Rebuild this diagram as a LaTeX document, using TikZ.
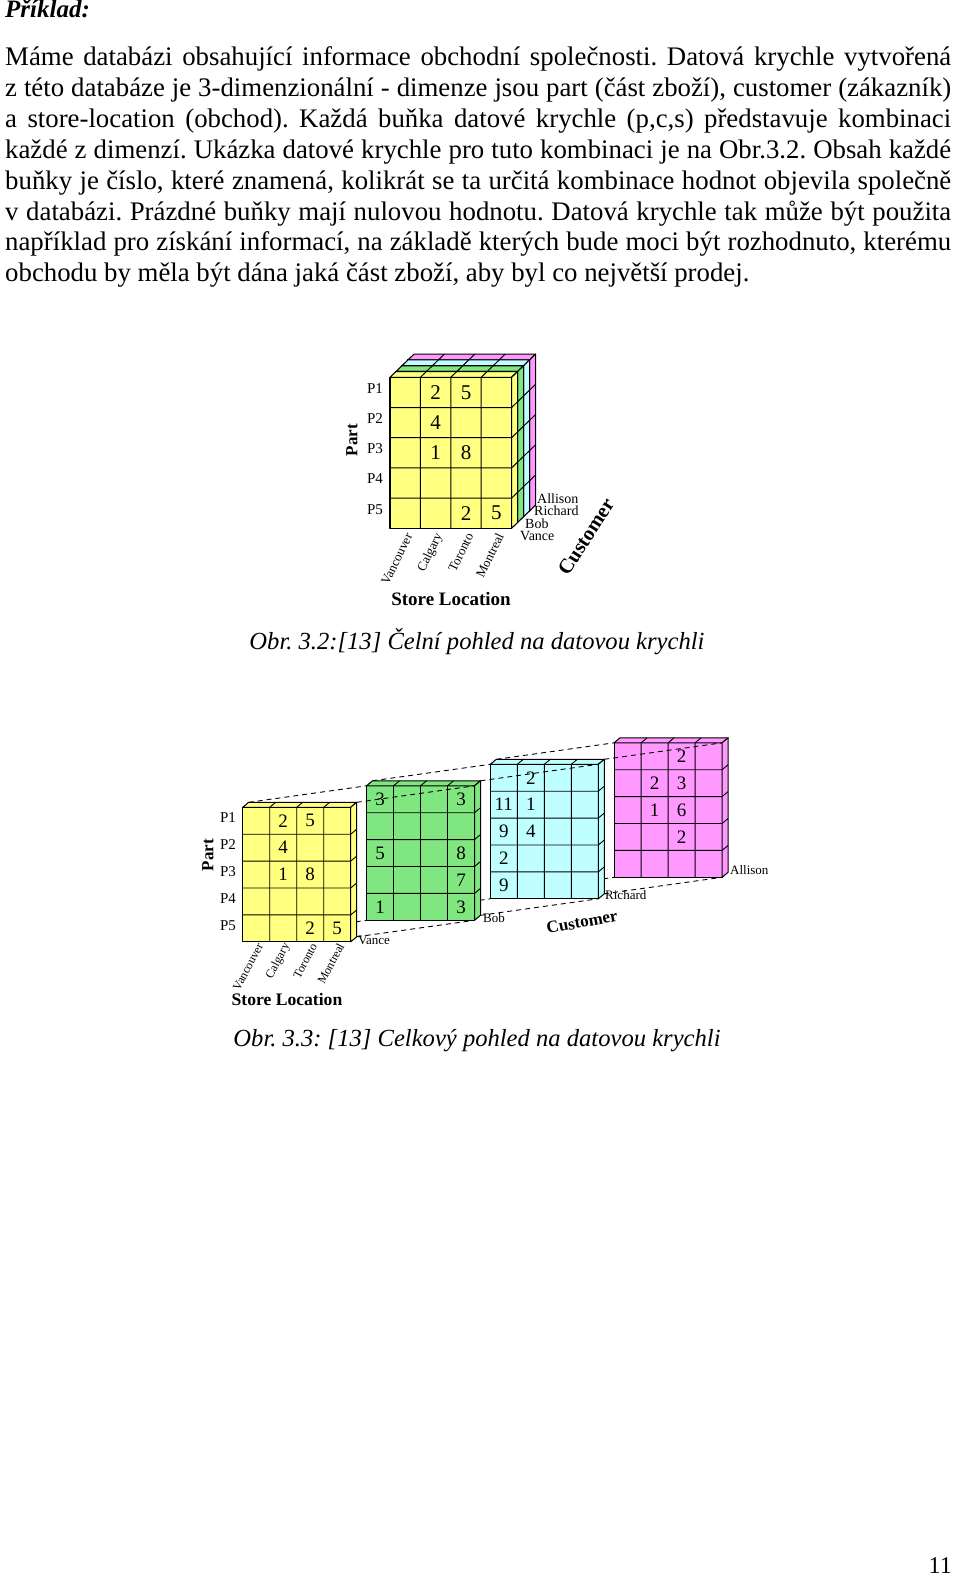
\documentclass[tikz,border=0pt]{standalone}
\usepackage{fontspec}
\setmainfont{Liberation Serif}
\usetikzlibrary{positioning}
\frenchspacing
\definecolor{cubeyellow}{RGB}{255,255,128}
\definecolor{cubegreen}{RGB}{128,230,128}
\definecolor{cubecyan}{RGB}{192,255,255}
\definecolor{cubepink}{RGB}{255,153,255}
\tikzset{
  slab/.style={draw=black, line width=1.1pt, line join=round},
  cellline/.style={draw=black, line width=1pt},
  persp/.style={draw=black, line width=0.9pt, dash pattern=on 5pt off 4pt},
  bodyline/.style={anchor=base west, inner sep=0pt, font=\fontsize{26.8}{31}\selectfont},
  caption/.style={anchor=base, inner sep=0pt, font=\itshape\fontsize{24.6}{31}\selectfont},
  cellnum/.style={inner sep=0pt, font=\fontsize{21}{21}\selectfont},
  rowlab/.style={inner sep=0pt, font=\fontsize{15}{15}\selectfont},
  collab/.style={inner sep=0pt, anchor=east, font=\fontsize{13}{13}\selectfont},
  custlab/.style={inner sep=0pt, anchor=west, font=\fontsize{14}{14}\selectfont},
  axislab/.style={inner sep=0pt, font=\bfseries\fontsize{19}{19}\selectfont},
}
\begin{document}
\begin{tikzpicture}[x=1pt, y=-1pt]
\fill[white] (0,0) rectangle (960,1576);
\useasboundingbox (0,0) rectangle (960,1576);
% text of the page
\node[bodyline, font=\bfseries\itshape\fontsize{25}{31}\selectfont] (title) at (5,18) {Příklad:};
\node[bodyline] (l1) at (5,66) {\makebox[946pt][s]{Máme databázi obsahující informace obchodní společnosti. Datová krychle vytvořená}};
\node[bodyline] (l2) at (5,96.8) {\makebox[946pt][s]{z této databáze je 3-dimenzionální - dimenze jsou part (část zboží), customer (zákazník)}};
\node[bodyline] (l3) at (5,127.6) {\makebox[946pt][s]{a store-location (obchod). Každá buňka datové krychle (p,c,s) představuje kombinaci}};
\node[bodyline] (l4) at (5,158.4) {\makebox[946pt][s]{každé z dimenzí. Ukázka datové krychle pro tuto kombinaci je na Obr.3.2. Obsah každé}};
\node[bodyline] (l5) at (5,189.2) {\makebox[946pt][s]{buňky je číslo, které znamená, kolikrát se ta určitá kombinace hodnot objevila společně}};
\node[bodyline] (l6) at (5,220) {\makebox[946pt][s]{v databázi. Prázdné buňky mají nulovou hodnotu. Datová krychle tak může být použita}};
\node[bodyline] (l7) at (5,250.8) {\makebox[946pt][s]{například pro získání informací, na základě kterých bude moci být rozhodnuto, kterému}};
\node[bodyline] (l8) at (5,281.6) {obchodu by měla být dána jaká část zboží, aby byl co největší prodej.};
% Obr. 3.2: front view of the cube
\pgfmathsetmacro\cubex{390}
\pgfmathsetmacro\cubey{377.3}
\pgfmathsetmacro\cellw{30.4}
\pgfmathsetmacro\cellh{30.2}
\pgfmathsetmacro\depx{6}
\pgfmathsetmacro\depy{-5.8}
\foreach \j/\fillcol in {3/cubepink,2/cubecyan,1/cubegreen,0/cubeyellow} {
  \pgfmathsetmacro\slx{\cubex+\j*\depx}
  \pgfmathsetmacro\sly{\cubey+\j*\depy}
  \pgfmathsetmacro\srx{\slx+4*\cellw}
  \pgfmathsetmacro\sry{\sly+5*\cellh}
  \filldraw[slab, fill=\fillcol] (\slx,\sly) rectangle (\srx,\sry);
  \filldraw[slab, fill=\fillcol] (\slx,\sly) -- ++(\depx,\depy) -- ++(4*\cellw,0) -- (\srx,\sly) -- cycle;
  \filldraw[slab, fill=\fillcol] (\srx,\sly) -- ++(\depx,\depy) -- ++(0,5*\cellh) -- (\srx,\sry) -- cycle;
  \foreach \c in {1,2,3} \draw[cellline] (\slx+\c*\cellw,\sly) -- ++(\depx,\depy) (\slx+\c*\cellw,\sly) -- (\slx+\c*\cellw,\sry);
  \foreach \r in {1,...,4} \draw[cellline] (\srx,\sly+\r*\cellh) -- ++(\depx,\depy) (\slx,\sly+\r*\cellh) -- (\srx,\sly+\r*\cellh);
}
\foreach \r/\c/\v in {1/2/2,1/3/5,2/2/4,3/2/1,3/3/8,5/3/2,5/4/5}
  \node[cellnum] (f-\r-\c) at (\cubex+\c*\cellw-0.5*\cellw, \cubey+\r*\cellh-0.5*\cellh) {\v};
\foreach \r in {1,...,5} \node[rowlab] (f-p\r) at (375, \cubey+\r*\cellh-0.5*\cellh-4) {P\r};
\node[axislab, font=\bfseries\fontsize{17}{17}\selectfont, rotate=90] (f-part) at (352,440) {Part};
\foreach \c/\town in {1/Vancouver,2/Calgary,3/Toronto,4/Montreal}
  \node[collab, rotate=64] (f-\town) at (\cubex+\c*\cellw-0.5*\cellw+4, 534) {\town};
\node[axislab, anchor=base] (f-store) at (451,605) {Store Location};
\node[custlab] (f-allison) at (537,499) {Allison};
\node[custlab] (f-richard) at (534,511) {Richard};
\node[custlab] (f-bob) at (525,524) {Bob};
\node[custlab] (f-vance) at (520,536) {Vance};
\node[axislab, font=\bfseries\fontsize{20.5}{20.5}\selectfont, rotate=57] (f-customer) at (586,537) {Customer};
\node[caption] (cap1) at (477,649) {Obr. 3.2:[13] Čelní pohled na datovou krychli};
% Obr. 3.3: the four customer walls pulled apart
\pgfmathsetmacro\wallx{242.7}
\pgfmathsetmacro\wally{807.3}
\pgfmathsetmacro\gapx{123.8}
\pgfmathsetmacro\gapy{-21.5}
\pgfmathsetmacro\cellw{27}
\pgfmathsetmacro\cellh{26.9}
\pgfmathsetmacro\depx{6}
\pgfmathsetmacro\depy{-5}
\foreach \k in {0,...,3} {
  \pgfmathsetmacro\slx{\wallx+\k*\gapx}
  \pgfmathsetmacro\sly{\wally+\k*\gapy}
  \coordinate (w\k-tl) at (\slx,\sly);
  \coordinate (w\k-tr) at (\slx+4*\cellw,\sly);
  \coordinate (w\k-bl) at (\slx,\sly+5*\cellh);
  \coordinate (w\k-br) at (\slx+4*\cellw,\sly+5*\cellh);
  \coordinate (w\k-btl) at (\slx+\depx,\sly+\depy);
  \coordinate (w\k-btr) at (\slx+4*\cellw+\depx,\sly+\depy);
  \coordinate (w\k-bbl) at (\slx+\depx,\sly+5*\cellh+\depy);
  \coordinate (w\k-bbr) at (\slx+4*\cellw+\depx,\sly+5*\cellh+\depy);
}
\foreach \k/\fillcol in {3/cubepink,2/cubecyan,1/cubegreen,0/cubeyellow} {
  \pgfmathsetmacro\slx{\wallx+\k*\gapx}
  \pgfmathsetmacro\sly{\wally+\k*\gapy}
  \filldraw[slab, line width=1pt, fill=\fillcol] (w\k-tl) rectangle (w\k-br);
  \filldraw[slab, line width=1pt, fill=\fillcol] (w\k-tl) -- (w\k-btl) -- (w\k-btr) -- (w\k-tr) -- cycle;
  \filldraw[slab, line width=1pt, fill=\fillcol] (w\k-tr) -- (w\k-btr) -- (w\k-bbr) -- (w\k-br) -- cycle;
  \foreach \c in {1,2,3} \draw[cellline, line width=0.9pt] (\slx+\c*\cellw,\sly) -- ++(\depx,\depy) (\slx+\c*\cellw,\sly) -- ++(0,5*\cellh);
  \foreach \r in {1,...,4} \draw[cellline, line width=0.9pt] (\slx+4*\cellw,\sly+\r*\cellh) -- ++(\depx,\depy) (\slx,\sly+\r*\cellh) -- ++(4*\cellw,0);
  \foreach \s/\r/\c/\v in {0/1/2/2,0/1/3/5,0/2/2/4,0/3/2/1,0/3/3/8,0/5/3/2,0/5/4/5,
      1/1/1/3,1/1/4/3,1/3/1/5,1/3/4/8,1/4/4/7,1/5/1/1,1/5/4/3,
      2/1/2/2,2/2/1/11,2/2/2/1,2/3/1/9,2/3/2/4,2/4/1/2,2/5/1/9,
      3/1/3/2,3/2/2/2,3/2/3/3,3/3/2/1,3/3/3/6,3/4/3/2} {
    \ifnum\s=\k\relax
      \node[cellnum, font=\fontsize{19}{19}\selectfont] (w\s-\r-\c) at (\slx+\c*\cellw-0.5*\cellw, \sly+\r*\cellh-0.5*\cellh) {\v};
    \fi
  }
  % dashed lines from the wall in front
  \ifnum\k>0
    \pgfmathtruncatemacro\prev{\k-1}
    \draw[persp] (w\prev-btl) -- (w\k-tl) (w\prev-btr) -- (w\k-tr) (w\prev-bbl) -- (w\k-bl) (w\prev-bbr) -- (w\k-br);
  \fi
}
\foreach \r in {1,...,5} \node[rowlab] (w-p\r) at (228, \wally+\r*\cellh-0.5*\cellh-3) {P\r};
\node[axislab, font=\bfseries\fontsize{17}{17}\selectfont, rotate=90] (w-part) at (208,855) {Part};
\foreach \c/\town in {1/Vancouver,2/Calgary,3/Toronto,4/Montreal}
  \node[collab, font=\fontsize{12}{12}\selectfont, rotate=62] (w-\town) at (\wallx+\c*\cellw-0.5*\cellw+4, 944) {\town};
\node[axislab, anchor=base, font=\bfseries\fontsize{17.6}{17.6}\selectfont] (w-store) at (287,1005) {Store Location};
\node[custlab, font=\fontsize{13}{13}\selectfont] (w-vance) at (358,940) {Vance};
\node[custlab, font=\fontsize{13}{13}\selectfont] (w-bob) at (483,918) {Bob};
\node[custlab, font=\fontsize{13}{13}\selectfont] (w-richard) at (605,895.5) {Richard};
\node[custlab, font=\fontsize{13}{13}\selectfont] (w-allison) at (730,870) {Allison};
\node[axislab, font=\bfseries\fontsize{17}{17}\selectfont, rotate=10.5] (w-customer) at (582,922) {Customer};
\node[caption] (cap2) at (477,1046) {Obr. 3.3: [13] Celkový pohled na datovou krychli};
\node[bodyline, anchor=base east, font=\fontsize{24}{24}\selectfont] (pageno) at (952,1573) {11};
\end{tikzpicture}
\end{document}
